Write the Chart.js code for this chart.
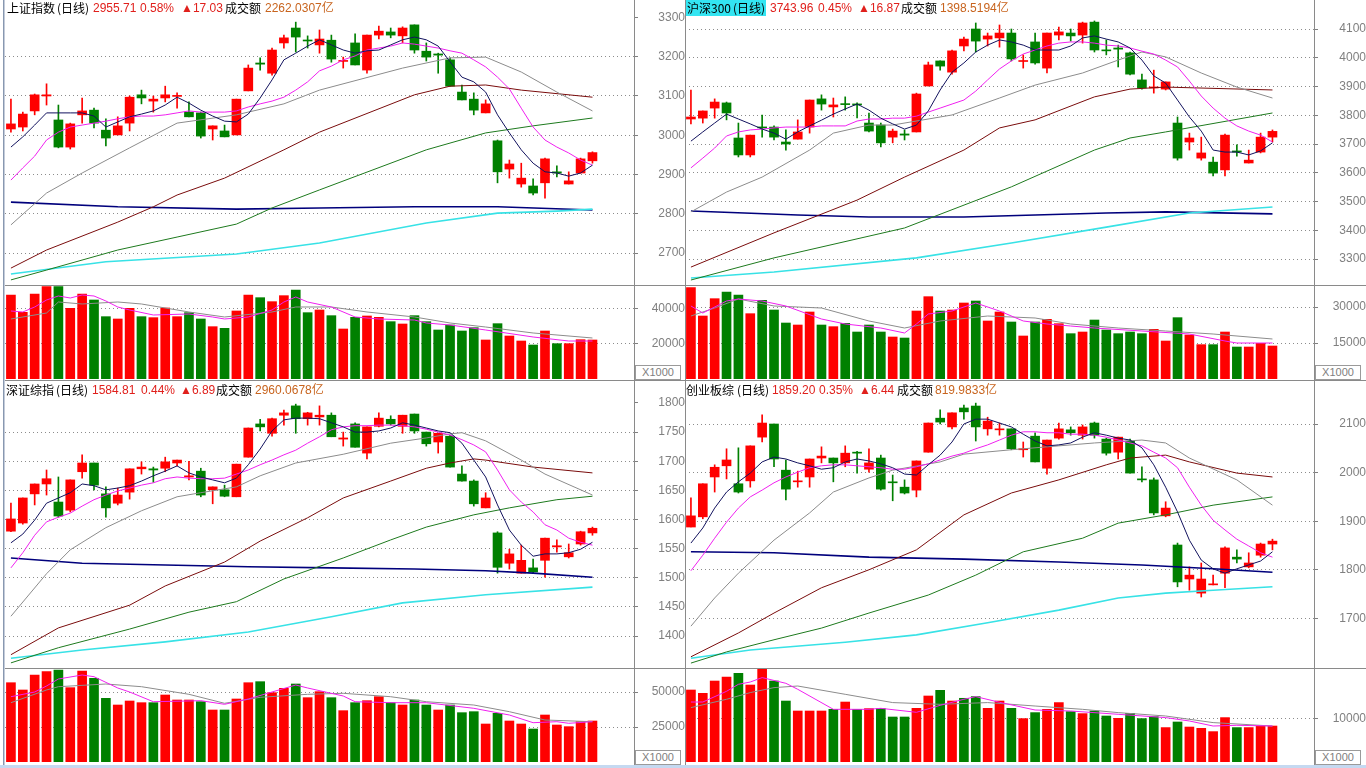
<!DOCTYPE html>
<html>
<head>
<meta charset="utf-8">
<title>大盘日线</title>
<script src="https://cdn.jsdelivr.net/npm/chart.js@4.4.0/dist/chart.umd.min.js"></script>
<style>
  body { margin: 0; width: 1366px; height: 768px; background: #fff; position: relative; overflow: hidden; }
  canvas { position: absolute; }
  .vl { position: absolute; top: 0; width: 1px; height: 765px; background: #8a8a8a; }
  .hl { position: absolute; left: 5px; width: 1361px; height: 1px; background: #8a8a8a; }
  .t { position: absolute; font: 12px "Liberation Sans", "Noto Sans CJK SC", sans-serif; line-height: 14px; white-space: nowrap; color: #000; }
  .cn { font-family: "Noto Sans CJK SC", sans-serif; }
  .red { color: #e0201c; }
  .amt { color: #c8641e; }
  .x1000 { position: absolute; width: 44px; height: 13px; border: 1px solid #9a9a9a; font: 11px "Liberation Sans", sans-serif; color: #808080; text-align: center; line-height: 13px; background: #fff; }
</style>
</head>
<body>
<canvas id="shMain" style="left:5px;top:0" width="680" height="285"></canvas>
<canvas id="shVolC" style="left:5px;top:285px" width="680" height="94"></canvas>
<canvas id="hsMain" style="left:685px;top:0" width="681" height="285"></canvas>
<canvas id="hsVolC" style="left:685px;top:285px" width="681" height="94"></canvas>
<canvas id="szMain" style="left:5px;top:381px" width="680" height="287"></canvas>
<canvas id="szVolC" style="left:5px;top:669px" width="680" height="93"></canvas>
<canvas id="cyMain" style="left:685px;top:381px" width="681" height="287"></canvas>
<canvas id="cyVolC" style="left:685px;top:669px" width="681" height="93"></canvas>

<!-- frame lines -->
<div style="position:absolute;left:3px;top:0;width:1px;height:765px;background:#8898b0"></div>
<div style="position:absolute;left:4px;top:0;width:1px;height:765px;background:#c4ccda"></div>
<div class="vl" style="left:634px"></div>
<div class="vl" style="left:685px"></div>
<div class="vl" style="left:1314px"></div>
<div class="hl" style="top:285px"></div>
<div class="hl" style="top:380px"></div>
<div class="hl" style="top:668px"></div>
<div style="position:absolute;left:0;top:765px;width:1366px;height:3px;background:#c5d9f1"></div>

<div class="x1000" style="left:635px;top:365px">X1000</div>
<div class="x1000" style="left:1315px;top:365px">X1000</div>
<div class="x1000" style="left:635px;top:750px">X1000</div>
<div class="x1000" style="left:1315px;top:750px">X1000</div>

<!-- titles -->
<span class="t cn" style="left:7px;top:1px">上证指数</span>
<span class="t cn" style="left:57px;top:1px">(日线)</span>
<span class="t red" style="left:93px;top:1px">2955.71</span>
<span class="t red" style="left:140px;top:1px">0.58%</span>
<span class="t red" style="left:181px;top:1px">▲17.03</span>
<span class="t cn" style="left:225px;top:1px">成交额</span>
<span class="t amt" style="left:265px;top:1px">2262.0307亿</span>

<div style="position:absolute;left:686px;top:0;width:80px;height:16px;background:#33e5f2"></div>
<span class="t cn" style="left:687px;top:1px">沪深300</span>
<span class="t cn" style="left:733px;top:1px">(日线)</span>
<span class="t red" style="left:770px;top:1px">3743.96</span>
<span class="t red" style="left:818px;top:1px">0.45%</span>
<span class="t red" style="left:858px;top:1px">▲16.87</span>
<span class="t cn" style="left:901px;top:1px">成交额</span>
<span class="t amt" style="left:940px;top:1px">1398.5194亿</span>

<span class="t cn" style="left:6px;top:383px">深证综指</span>
<span class="t cn" style="left:56px;top:383px">(日线)</span>
<span class="t red" style="left:92px;top:383px">1584.81</span>
<span class="t red" style="left:141px;top:383px">0.44%</span>
<span class="t red" style="left:180px;top:383px">▲6.89</span>
<span class="t cn" style="left:216px;top:383px">成交额</span>
<span class="t amt" style="left:255px;top:383px">2960.0678亿</span>

<span class="t cn" style="left:686px;top:383px">创业板综</span>
<span class="t cn" style="left:737px;top:383px">(日线)</span>
<span class="t red" style="left:772px;top:383px">1859.20</span>
<span class="t red" style="left:819px;top:383px">0.35%</span>
<span class="t red" style="left:859px;top:383px">▲6.44</span>
<span class="t cn" style="left:897px;top:383px">成交额</span>
<span class="t amt" style="left:935px;top:383px">819.9833亿</span>

<script>
// ---- 上证指数 ----  candles are [open, high, low, close]
const shCandles = [
  [3016,3092,3008,3029],[3021,3059,3011,3054],[3062,3105,3052,3103],[3100,3131,3077,3103],[3039,3077,2968,2970],
  [2970,3031,2965,3029],[3052,3095,3031,3062],[3064,3069,3019,3031],[3013,3042,2973,2993],[3001,3047,3001,3024],
  [3031,3100,3011,3097],[3103,3115,3080,3095],[3087,3100,3059,3092],[3095,3125,3085,3103],[3099,3108,3069,3100],
  [3059,3085,3047,3047],[3057,3059,2993,2998],[3016,3024,2988,3024],[3011,3026,2996,2996],[3001,3092,3001,3092],
  [3113,3179,3113,3171],[3184,3197,3166,3181],[3158,3222,3153,3217],[3235,3255,3222,3248],[3273,3288,3212,3250],
  [3242,3253,3222,3240],[3230,3268,3209,3245],[3242,3255,3186,3194],[3188,3199,3171,3189],[3235,3258,3179,3179],
  [3166,3255,3158,3255],[3255,3278,3245,3265],[3263,3273,3248,3255],[3253,3276,3235,3273],[3281,3281,3209,3217],
  [3214,3235,3189,3199],[3207,3209,3158,3204],[3192,3197,3125,3125],[3110,3128,3090,3090],[3092,3108,3052,3064],
  [3057,3090,3057,3080],[2986,2988,2879,2907],[2914,2937,2891,2927],[2876,2929,2868,2891],[2871,2889,2848,2853],
  [2879,2942,2840,2940],[2907,2922,2894,2904],[2876,2907,2876,2884],[2904,2942,2904,2940],[2935,2958,2929,2956]
];
const shMa5 = [2970,2996,3026,3057,3057,3057,3057,3049,3021,3034,3047,3054,3062,3077,3097,3082,3064,3049,3036,3034,
  3054,3095,3141,3192,3209,3227,3243,3230,3217,3209,3215,3217,3230,3243,3250,3243,3227,3187,3148,3136,
  3110,3052,3006,2963,2929,2907,2904,2896,2904,2924];
const shMa10 = [2886,2917,2947,2988,3008,3021,3026,3031,3036,3042,3047,3049,3049,3052,3057,3062,3059,3059,3059,3062,
  3072,3080,3087,3097,3115,3136,3164,3176,3192,3202,3217,3222,3227,3235,3232,3227,3222,3215,3209,3192,
  3174,3148,3118,3069,3021,2988,2970,2955,2937,2924];
// longer averages read at a few days, as [day, value]
const shMa20 = [[0,2772],[3,2853],[6,2904],[10,2968],[14,3031],[19,3052],[23,3080],[26,3115],[33,3171],[37,3197],[40,3199],[43,3161],[46,3110],[49,3062]];
const shMa60 = [[0,2662],[3,2708],[9,2779],[12,2818],[14,2848],[18,2891],[23,2963],[26,3008],[34,3103],[37,3125],[40,3128],[43,3115],[49,3097]];
const shMa120 = [[0,2632],[3,2657],[9,2708],[14,2741],[19,2774],[22,2815],[26,2861],[35,2963],[40,3006],[44,3024],[49,3044]];
const shMa250 = [[0,2647],[8,2678],[19,2698],[26,2726],[35,2777],[41,2802],[46,2807],[49,2812]];
const shMaLong = [[0,2830],[9,2818],[19,2812],[26,2815],[34,2818],[41,2818],[49,2810]];
const shVol = [48000,38100,48570,52740,52740,40380,48570,45140,35620,34290,40380,35620,35050,40570,35620,37900,34290,29900,28950,38860,
  48000,46470,44190,47620,50860,37900,39430,36190,28570,35240,36000,35240,32760,31430,36190,32760,28000,30860,27430,29330,
  22290,31620,24570,21710,19430,27430,20190,20190,22480,22290];
const shVolMa5 = [[0,38860],[1,38290],[2,41140],[3,45140],[4,47430],[5,46280],[6,48000],[7,47430],[8,44570],[9,41140],[10,39430],[12,36570],
  [15,37140],[17,35430],[18,34290],[20,35430],[22,39430],[23,44000],[24,46860],[25,44000],[27,41140],[29,35430],[31,34290],[34,33710],
  [35,32000],[37,30860],[40,28000],[44,24000],[47,21710],[49,21710]];
const shVolMa10 = [[0,34290],[3,37710],[4,44000],[6,42860],[9,44000],[11,42860],[15,38290],[18,35430],[22,38290],[24,41140],[27,41140],
  [30,38290],[34,35430],[37,32000],[40,29710],[44,26290],[49,23430]];
const shTicks = [3300,3200,3100,3000,2900,2800,2700];
const shVolTicks = [40000,20000];

// ---- 沪深300 ----
const hsCandles = [
  [3787,3888,3770,3794],[3790,3815,3773,3815],[3825,3857,3790,3846],[3843,3846,3784,3808],[3721,3773,3655,3662],
  [3662,3731,3655,3731],[3759,3801,3724,3756],[3759,3763,3714,3724],[3707,3749,3679,3700],[3717,3784,3717,3742],
  [3759,3853,3738,3853],[3857,3871,3818,3839],[3829,3860,3794,3836],[3839,3864,3818,3837],[3839,3843,3791,3836],
  [3773,3808,3742,3745],[3766,3773,3690,3704],[3724,3752,3704,3745],[3735,3749,3714,3731],[3742,3877,3742,3874],
  [3902,3985,3902,3975],[3989,3989,3957,3971],[3950,4027,3943,4024],[4041,4072,4024,4065],[4100,4121,4020,4058],
  [4065,4086,4041,4076],[4069,4114,4037,4086],[4086,4100,3989,3996],[3987,4010,3964,3989],[4055,4086,3978,3982],
  [3964,4086,3947,4086],[4079,4107,4062,4090],[4086,4100,4058,4076],[4079,4124,4051,4121],[4124,4128,4020,4027],
  [4027,4062,4010,4024],[4034,4044,3968,4030],[4017,4020,3940,3943],[3923,3943,3891,3895],[3895,3957,3877,3898],
  [3891,3916,3888,3916],[3773,3794,3644,3651],[3707,3738,3679,3721],[3651,3724,3644,3669],[3637,3655,3589,3599],
  [3610,3735,3589,3731],[3676,3697,3658,3672],[3634,3679,3634,3644],[3672,3738,3669,3724],[3724,3749,3707,3744]
];
const hsMa5 = [3710,3742,3773,3804,3787,3770,3752,3738,3717,3742,3763,3783,3804,3822,3839,3818,3790,3770,3752,3766,
  3815,3888,3950,3982,4020,4044,4062,4055,4044,4027,4027,4027,4041,4069,4076,4065,4055,4034,3992,3937,
  3912,3853,3794,3745,3679,3672,3672,3662,3676,3704];
const hsMa10 = [3617,3651,3686,3728,3742,3749,3752,3756,3759,3759,3759,3763,3763,3763,3780,3787,3787,3790,3790,3797,
  3811,3825,3839,3853,3884,3923,3961,3989,4013,4027,4041,4051,4055,4055,4051,4044,4041,4034,4023,4013,
  3992,3968,3919,3867,3825,3790,3763,3745,3731,3707];
const hsMa20 = [[0,3464],[3,3533],[6,3585],[10,3679],[12,3738],[15,3766],[17,3766],[22,3801],[26,3860],[29,3905],[33,3947],[36,3992],[38,4020],[40,4003],[43,3947],[46,3898],[49,3860]];
const hsMa60 = [[0,3272],[7,3391],[14,3505],[18,3585],[23,3679],[26,3756],[29,3784],[34,3864],[37,3891],[40,3898],[49,3888]];
const hsMa120 = [[0,3227],[7,3304],[18,3408],[27,3551],[34,3679],[37,3721],[40,3742],[49,3808]];
const hsMa250 = [[0,3234],[7,3255],[19,3304],[27,3356],[35,3411],[42,3460],[49,3481]];
const hsMaLong = [[0,3467],[9,3453],[15,3446],[23,3446],[35,3460],[40,3464],[49,3457]];
const hsVol = [38060,26250,33470,36250,35000,27220,32780,28750,23330,22500,27920,22500,21810,23190,19580,22500,19580,17500,17080,28330,
  34310,28330,28750,31670,32500,24170,27920,23750,17920,23750,24860,23060,18890,19580,24580,20420,18890,19580,18890,20690,
  15830,25560,18330,14310,14310,19580,13330,13330,14860,13750];
const hsVolMa5 = [[0,30420],[1,27500],[3,32500],[4,33330],[6,32500],[8,30420],[11,25000],[13,22920],[16,21250],[18,19170],[19,22920],
  [20,27080],[22,28330],[24,31670],[26,28330],[28,24170],[30,22920],[32,22080],[34,21250],[38,20000],[42,18750],[45,15830],[46,15000],[49,15000]];
const hsVolMa10 = [[0,26250],[2,29580],[4,33330],[7,30420],[11,29580],[15,24170],[18,21250],[21,24170],[25,26250],[29,25420],[32,22920],
  [36,21250],[40,20000],[44,18750],[49,16670]];
const hsTicks = [4100,4000,3900,3800,3700,3600,3500,3400,3300];
const hsVolTicks = [30000,15000];

// ---- 深证综指 ----
const szCandles = [
  [1580,1628,1579,1601],[1594,1637,1592,1637],[1644,1661,1625,1661],[1661,1685,1642,1670],[1630,1673,1604,1606],
  [1616,1668,1613,1668],[1682,1711,1671,1697],[1697,1697,1651,1659],[1644,1656,1604,1620],[1628,1654,1625,1642],
  [1647,1687,1635,1687],[1687,1699,1678,1690],[1687,1690,1664,1685],[1688,1707,1682,1699],[1697,1702,1692,1702],
  [1673,1700,1668,1675],[1683,1688,1639,1642],[1651,1656,1627,1656],[1651,1659,1639,1640],[1639,1695,1639,1695],
  [1707,1757,1707,1757],[1764,1772,1752,1759],[1748,1774,1743,1773],[1779,1788,1762,1783],[1795,1798,1748,1773],
  [1773,1784,1762,1783],[1776,1795,1762,1779],[1779,1783,1742,1742],[1738,1750,1726,1740],[1764,1766,1724,1724],
  [1714,1759,1704,1759],[1760,1783,1759,1774],[1772,1778,1762,1764],[1760,1779,1748,1779],[1781,1781,1748,1752],
  [1750,1750,1726,1730],[1733,1748,1714,1748],[1743,1745,1690,1690],[1678,1692,1666,1666],[1666,1668,1623,1627],
  [1620,1646,1620,1637],[1577,1579,1508,1518],[1525,1549,1515,1541],[1508,1556,1508,1530],[1517,1532,1508,1510],
  [1530,1568,1501,1568],[1553,1565,1544,1555],[1536,1558,1534,1543],[1558,1580,1556,1579],[1577,1587,1573,1585]
];
const szMa5 = [1560,1575,1599,1628,1637,1646,1661,1658,1651,1654,1658,1666,1675,1683,1692,1680,1673,1668,1663,1671,
  1694,1721,1752,1771,1774,1774,1773,1766,1759,1750,1750,1752,1757,1766,1762,1757,1752,1749,1731,1702,
  1673,1625,1582,1556,1537,1541,1541,1543,1549,1561];
const szMa10 = [1517,1543,1573,1596,1604,1611,1623,1634,1642,1649,1654,1659,1663,1670,1673,1671,1670,1670,1671,1678,
  1685,1694,1702,1711,1719,1731,1742,1754,1759,1761,1761,1762,1762,1761,1759,1755,1750,1745,1737,1728,
  1716,1685,1651,1630,1613,1591,1582,1568,1561,1556];
const szMa20 = [[0,1434],[3,1507],[5,1548],[8,1586],[11,1615],[14,1639],[16,1646],[19,1656],[21,1675],[24,1697],[28,1712],[32,1731],[35,1740],[37,1747],[38,1749],[40,1735],[43,1702],[45,1678],[49,1642]];
const szMa60 = [[0,1368],[4,1414],[10,1453],[13,1486],[18,1527],[21,1563],[25,1603],[28,1637],[32,1666],[35,1688],[37,1697],[39,1704],[40,1702],[44,1690],[49,1680]];
const szMa120 = [[0,1354],[4,1380],[10,1412],[15,1441],[19,1459],[23,1498],[28,1534],[32,1565],[35,1587],[39,1608],[42,1620],[46,1634],[49,1640]];
const szMa250 = [[0,1362],[6,1376],[13,1390],[20,1407],[27,1433],[33,1457],[40,1471],[49,1484]];
const szMaLong = [[0,1534],[6,1525],[13,1522],[20,1519],[27,1517],[34,1515],[40,1512],[44,1508],[49,1501]];
const szVol = [56640,51430,62140,64520,65710,53100,65000,59760,45470,40710,43570,42380,42380,47860,44290,44290,43100,37140,37140,45000,
  56640,57380,49520,52620,55710,45950,50240,45950,36670,42380,43810,46670,42380,40710,44290,40710,37140,40710,35240,35950,
  27140,34760,29290,27140,23570,33570,26430,25240,28810,29290];
const szVolMa5 = [[0,46640],[2,50000],[3,54290],[4,59290],[6,62140],[7,60930],[9,52860],[10,50000],[12,43070],[16,43790],[18,41210],
  [20,45000],[22,50000],[24,55000],[25,52860],[28,47140],[29,43070],[32,42360],[35,42360],[39,38360],[42,33570],[44,28070],[46,28790],[47,27640],[49,28790]];
const szVolMa10 = [[0,42360],[3,51430],[4,53790],[8,55710],[11,53790],[15,48360],[18,41930],[21,46210],[25,48360],[28,49070],[32,46640],
  [35,43070],[39,40710],[42,35930],[45,30000],[49,28790]];
const szTicks = [1800,1750,1700,1650,1600,1550,1500,1450,1400];
const szVolTicks = [50000,25000];

// ---- 创业板综 ----
const cyCandles = [
  [1888,1948,1888,1911],[1909,1977,1905,1977],[1991,2016,1960,2011],[2014,2049,1987,2026],[1977,2051,1958,1960],
  [1983,2055,1970,2055],[2073,2119,2063,2102],[2100,2100,2012,2028],[2005,2026,1944,1966],[1981,2003,1970,1983],
  [1991,2028,1970,2028],[2030,2053,2020,2034],[2030,2030,1981,2020],[2020,2055,2012,2040],[2042,2044,1999,2040],
  [2007,2049,2001,2020],[2030,2036,1964,1966],[1981,1995,1942,1979],[1970,1985,1956,1958],[1964,2024,1950,2024],
  [2042,2102,2042,2102],[2112,2129,2100,2104],[2094,2123,2090,2123],[2133,2139,2110,2125],[2137,2143,2065,2094],
  [2090,2114,2077,2106],[2088,2102,2077,2090],[2090,2090,2047,2049],[2047,2063,2032,2049],[2075,2082,2022,2022],
  [2009,2067,1997,2067],[2071,2102,2069,2090],[2088,2094,2077,2082],[2077,2098,2069,2094],[2102,2104,2071,2077],
  [2069,2071,2036,2040],[2042,2073,2028,2073],[2065,2069,1999,1999],[1987,2012,1981,1985],[1985,1989,1913,1917],
  [1911,1940,1909,1927],[1851,1855,1765,1775],[1781,1806,1758,1789],[1752,1814,1744,1781],[1769,1789,1769,1771],
  [1793,1847,1763,1845],[1826,1841,1814,1822],[1806,1835,1804,1814],[1830,1855,1826,1853],[1853,1863,1841,1859]
];
const cyMa5 = [1855,1886,1927,1960,1981,1999,2022,2032,2028,2020,2014,2007,2010,2022,2028,2024,2018,2010,1997,1995,
  2016,2036,2063,2100,2110,2110,2102,2094,2079,2065,2055,2057,2061,2073,2082,2077,2071,2067,2051,2016,
  1970,1919,1861,1820,1802,1793,1802,1810,1818,1837];
const cyMa10 = [1798,1830,1865,1898,1927,1950,1964,1979,1991,2001,2010,2014,2016,2016,2014,2012,2010,2007,2007,2012,
  2018,2026,2034,2040,2049,2057,2067,2077,2084,2084,2082,2082,2079,2079,2077,2073,2067,2061,2055,2042,
  2030,2010,1970,1933,1902,1882,1863,1849,1835,1826];
const cyMa20 = [[0,1684],[2,1742],[4,1793],[7,1861],[10,1917],[12,1960],[15,1989],[17,2005],[21,2022],[23,2038],[27,2047],[31,2055],[34,2061],[38,2067],[40,2061],[42,2030],[46,1985],[49,1933]];
const cyMa60 = [[0,1621],[4,1670],[7,1711],[11,1763],[15,1800],[19,1841],[23,1913],[27,1958],[31,1985],[35,2016],[37,2030],[40,2036],[42,2022],[46,1999],[49,1991]];
const cyMa120 = [[0,1608],[3,1631],[7,1656],[11,1680],[15,1711],[20,1748],[24,1789],[28,1837],[33,1865],[36,1896],[40,1913],[44,1933],[49,1950]];
const cyMa250 = [[0,1618],[5,1635],[13,1651],[19,1666],[25,1691],[31,1717],[36,1742],[40,1752],[44,1758],[49,1765]];
const cyMaLong = [[0,1837],[7,1835],[15,1826],[23,1822],[31,1816],[38,1810],[44,1802],[49,1795]];
const cyVol = [16590,15830,18660,19580,20440,17740,21360,18660,14050,11750,11750,11750,12140,13820,12140,12300,12300,10370,10370,12370,
  15210,16520,14050,14680,15070,12370,14050,12370,10000,11380,12140,13690,11610,11150,11750,10600,10070,11220,10000,10460,
  7930,9220,8060,7760,7000,10230,7930,7930,8290,8290];
const cyVolMa5 = [[0,13820],[1,13820],[3,16290],[4,17900],[5,18430],[6,19450],[8,18130],[9,16750],[12,12140],[15,12140],[16,12370],
  [19,11450],[21,13060],[23,14450],[24,15070],[26,13760],[29,11980],[32,11750],[36,10990],[40,10230],[42,9450],[44,8290],[46,8460],[49,8290]];
const cyVolMa10 = [[0,12530],[3,14450],[5,15990],[7,17140],[9,17510],[13,15600],[17,13690],[21,13290],[25,13690],[29,12900],[33,12140],
  [36,11380],[40,10600],[44,9080],[49,8290]];
const cyTicks = [2100,2000,1900,1800,1700];
const cyVolTicks = [10000];

Chart.defaults.font.family = '"Liberation Sans", sans-serif';

const UP = '#ff0000';
const DOWN = '#008000';
// MA5, MA10, MA20, MA60, MA120, MA250, long average
const MA_COLORS = ['#12125e', '#f020f0', '#8c8c8c', '#7a0c0c', '#1e7a1e', '#38e2e6', '#00007c'];
const MA_WIDTHS = [1, 1, 1, 1, 1, 1.6, 1.6];

// 50 trading days plus some empty room on the right, like the terminal
const slots = Array.from({length: 53}, (_, i) => i);

// [day, value] readings -> array with gaps that the line spans
function spread(pairs) {
  const out = new Array(50).fill(null);
  pairs.forEach(([i, v]) => { out[i] = v; });
  return out;
}

function colorsOf(candles) {
  return candles.map(k => k[3] >= k[0] ? UP : DOWN);
}

function maLine(values, color, width) {
  return {
    type: 'line',
    data: Array.isArray(values[0]) ? spread(values) : values,
    borderColor: color, borderWidth: width,
    pointRadius: 0, tension: 0, spanGaps: true, order: 1
  };
}

function yScale(min, max, ticks, width, pad, noGrid) {
  return {
    position: 'right', min, max, bounds: 'data',
    afterBuildTicks: s => { s.ticks = ticks.map(v => ({value: v})); },
    afterFit: s => { s.width = width; s.paddingTop = 0; s.paddingBottom = 0; },
    ticks: { color: '#808080', font: {size: 12}, padding: pad, crossAlign: 'far', autoSkip: false, callback: v => String(v) },
    grid: {
      color: c => (c.tick && noGrid.includes(c.tick.value)) ? 'rgba(0,0,0,0)' : '#8c8c8c',
      lineWidth: 1, tickLength: 4, tickColor: '#808080', tickWidth: 1
    },
    border: { display: false, dash: [1, 3] }
  };
}

function options(y) {
  return {
    animation: false, responsive: false, devicePixelRatio: 1, events: [],
    layout: { padding: 0 },
    plugins: { legend: { display: false }, tooltip: { enabled: false } },
    scales: { x: { display: false, offset: true }, y }
  };
}

function candleChart(id, candles, mas, min, max, ticks, width, noGrid) {
  const c = colorsOf(candles);
  new Chart(document.getElementById(id), {
    type: 'bar',
    data: {
      labels: slots,
      datasets: [
        ...mas.map((m, i) => maLine(m, MA_COLORS[i], MA_WIDTHS[i])),
        { data: candles.map(k => [k[0], k[3]]), backgroundColor: c, barThickness: 9, minBarLength: 1, grouped: false, order: 2 },
        { data: candles.map(k => [k[2], k[1]]), backgroundColor: c, barThickness: 1, grouped: false, order: 3 }
      ]
    },
    options: options(yScale(min, max, ticks, width, width === 51 ? 17 : 18, noGrid))
  });
}

function volumeChart(id, candles, vol, ma5, ma10, max, ticks, width) {
  new Chart(document.getElementById(id), {
    type: 'bar',
    data: {
      labels: slots,
      datasets: [
        maLine(ma5, '#f020f0', 1),
        maLine(ma10, '#8c8c8c', 1),
        { data: vol, backgroundColor: colorsOf(candles), barThickness: 9, order: 2 }
      ]
    },
    options: options(yScale(0, max, ticks, width, 11, []))
  });
}

candleChart('shMain', shCandles, [shMa5, shMa10, shMa20, shMa60, shMa120, shMa250, shMaLong], 2619, 3344.3, shTicks, 51, [3300]);
volumeChart('shVolC', shCandles, shVol, shVolMa5, shVolMa10, 53710, shVolTicks, 51);

candleChart('hsMain', hsCandles, [hsMa5, hsMa10, hsMa20, hsMa60, hsMa120, hsMa250, hsMaLong], 3209.7, 4200.9, hsTicks, 52, []);
volumeChart('hsVolC', hsCandles, hsVol, hsVolMa5, hsVolMa10, 39170, hsVolTicks, 52);

candleChart('szMain', szCandles, [szMa5, szMa10, szMa20, szMa60, szMa120, szMa250, szMaLong], 1345.2, 1837.7, szTicks, 51, [1800]);
volumeChart('szVolC', szCandles, szVol, szVolMa5, szVolMa10, 66430, szVolTicks, 51);

candleChart('cyMain', cyCandles, [cyMa5, cyMa10, cyMa20, cyMa60, cyMa120, cyMa250, cyMaLong], 1597.9, 2188.5, cyTicks, 52, []);
volumeChart('cyVolC', cyCandles, cyVol, cyVolMa5, cyVolMa10, 21430, cyVolTicks, 52);
</script>
</body>
</html>
